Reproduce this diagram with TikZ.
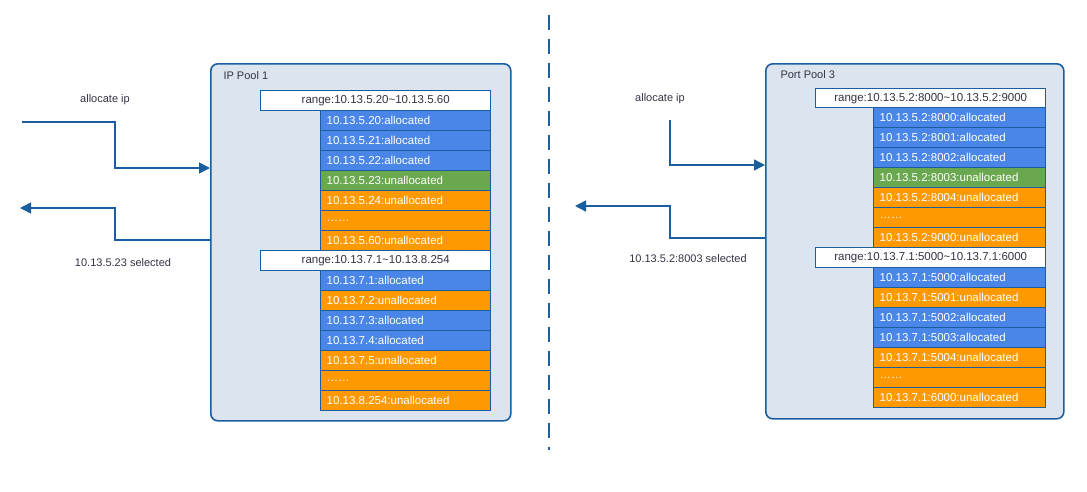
\documentclass[tikz,border=0pt]{standalone}
\usepackage{fontspec}
\setmainfont{Liberation Sans}
\usetikzlibrary{arrows.meta}
\definecolor{bd}{HTML}{1A5EA0}
\definecolor{pf}{HTML}{DCE4F0}
\definecolor{cb}{HTML}{4A86E8}
\definecolor{cg}{HTML}{6AA84F}
\definecolor{co}{HTML}{FF9900}
\definecolor{tx}{HTML}{333344}
\newcommand{\mydots}{\char"2026\char"2026}
\begin{document}
\begin{tikzpicture}[x=1pt,y=-1pt,
 pool/.style={draw=bd,fill=pf,line width=1.6pt,rounded corners=7pt},
 rng/.style={draw=bd,fill=white,line width=1.4pt,minimum height=20pt,inner sep=0pt,font=\fontsize{11.5}{12}\selectfont,text=tx},
 row/.style={draw=bd,line width=1.4pt,minimum height=20pt,inner sep=0pt,text=white,font=\fontsize{11.5}{12}\selectfont,align=left,text width=#1-12pt,minimum width=#1,anchor=north west},
 lbl/.style={font=\fontsize{11}{12}\selectfont,text=tx},
 con/.style={draw=bd,line width=1.4pt,-{Triangle[length=11pt,width=11pt]}}]
\useasboundingbox (0,0) rectangle (1087,491);
\draw[bd,line width=1.4pt,dash pattern=on 15pt off 9pt] (549,15) -- (549,450);
% left pool
\node[pool,minimum width=300pt,minimum height=357pt,anchor=north west] (P1) at (210,63) {};
\node[lbl,anchor=west] (t1) at (220,76) {IP Pool 1};
\node[rng,minimum width=230pt,anchor=north west] (r1) at (260,90) {range:10.13.5.20\textasciitilde10.13.5.60};
\foreach \t/\c [count=\i from 0] in {10.13.5.20:allocated/cb,10.13.5.21:allocated/cb,10.13.5.22:allocated/cb,10.13.5.23:unallocated/cg,10.13.5.24:unallocated/co,\mydots/co,10.13.5.60:unallocated/co}
  \node[row=170pt,fill=\c] (a\i) at (320,110+20*\i) {\t};
\node[rng,minimum width=230pt,anchor=north west] (r2) at (260,250) {range:10.13.7.1\textasciitilde10.13.8.254};
\foreach \t/\c [count=\i from 0] in {10.13.7.1:allocated/cb,10.13.7.2:unallocated/co,10.13.7.3:allocated/cb,10.13.7.4:allocated/cb,10.13.7.5:unallocated/co,\mydots/co,10.13.8.254:unallocated/co}
  \node[row=170pt,fill=\c] (b\i) at (320,270+20*\i) {\t};
\coordinate (i1) at (22,122); \coordinate (o1) at (20,208);
\draw[con] (i1) -- (115,122) -- (115,168) -- (P1.west|-0,168);
\draw[con] (P1.west|-0,240) -- (115,240) -- (115,208) -- (o1);
\node[lbl] (l1) at (105,100) {allocate ip};
\node[lbl] (l2) at (123,263) {10.13.5.23 selected};
% right pool
\node[pool,minimum width=298pt,minimum height=355pt,anchor=north west] (P2) at (765,63) {};
\node[lbl,anchor=west] (t2) at (777,75) {Port Pool 3};
\node[rng,minimum width=230pt,minimum height=19pt,anchor=north west] (r3) at (815,88) {range:10.13.5.2:8000\textasciitilde10.13.5.2:9000};
\foreach \t/\c [count=\i from 0] in {10.13.5.2:8000:allocated/cb,10.13.5.2:8001:allocated/cb,10.13.5.2:8002:allocated/cb,10.13.5.2:8003:unallocated/cg,10.13.5.2:8004:unallocated/co,\mydots/co,10.13.5.2:9000:unallocated/co}
  \node[row=172pt,fill=\c] (c\i) at (873,107+20*\i) {\t};
\node[rng,minimum width=230pt,anchor=north west] (r4) at (815,247) {range:10.13.7.1:5000\textasciitilde10.13.7.1:6000};
\foreach \t/\c [count=\i from 0] in {10.13.7.1:5000:allocated/cb,10.13.7.1:5001:unallocated/co,10.13.7.1:5002:allocated/cb,10.13.7.1:5003:allocated/cb,10.13.7.1:5004:unallocated/co,\mydots/co,10.13.7.1:6000:unallocated/co}
  \node[row=172pt,fill=\c] (d\i) at (873,267+20*\i) {\t};
\coordinate (i2) at (670,120); \coordinate (o2) at (575,206);
\draw[con] (i2) -- (670,165) -- (P2.west|-0,165);
\draw[con] (P2.west|-0,238) -- (670,238) -- (670,206) -- (o2);
\node[lbl] (l3) at (660,99) {allocate ip};
\node[lbl] (l4) at (688,259) {10.13.5.2:8003 selected};
\end{tikzpicture}
\end{document}
